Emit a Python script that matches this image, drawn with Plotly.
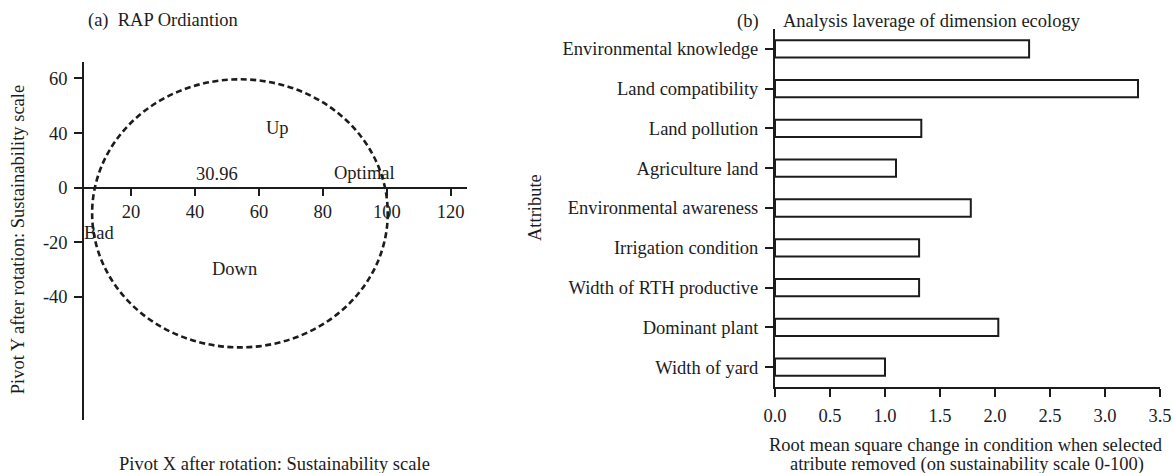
import plotly.graph_objects as go

# ---------------- data ----------------
# Panel (a): RAP ordination
x_tick_vals = [20, 40, 60, 80, 100, 120]
y_tick_vals = [40, 20, 0, -20, -40]
y_tick_text = ["60", "40", "0", "-20", "-40"]
circle_x = [7.8, 100.3]
circle_y = [-58.5, 39.7]
label_text = ["Up", "30.96", "Optimal", "Bad", "Down"]
label_x = [65.9, 47.0, 92.9, 10.0, 52.3]
label_y = [21.8, 5.0, 5.3, -16.6, -29.9]

# Panel (b): leverage of attributes
attributes = [
    "Environmental knowledge",
    "Land compatibility",
    "Land pollution",
    "Agriculture land",
    "Environmental awareness",
    "Irrigation condition",
    "Width of RTH productive",
    "Dominant plant",
    "Width of yard",
]
rms_change = [2.31, 3.30, 1.33, 1.10, 1.78, 1.31, 1.31, 2.03, 1.00]
x2_tick_vals = [0.0, 0.5, 1.0, 1.5, 2.0, 2.5, 3.0, 3.5]

# ---------------- style ----------------
W, H = 1173, 473
FONT = "Liberation Serif, Times New Roman, serif"
FS = 18.5
INK = "#1c1c1c"


def px_x(p):
    return p / W


def px_y(p):
    return 1 - p / H


fig = go.Figure()

fig.add_trace(go.Bar(
    x=rms_change, y=attributes, orientation="h",
    xaxis="x2", yaxis="y2", width=0.435,
    marker=dict(color="white", line=dict(color=INK, width=2)),
    showlegend=False, hoverinfo="x+y",
))

axis_common = dict(showgrid=False, zeroline=False, showline=True,
                   linecolor=INK, linewidth=2, ticks="outside",
                   tickcolor=INK, tickwidth=2, automargin=False,
                   tickfont=dict(family=FONT, size=FS, color=INK))

fig.update_layout(
    width=W, height=H, autosize=False,
    margin=dict(l=0, r=0, t=0, b=0, pad=0, autoexpand=False),
    paper_bgcolor="white", plot_bgcolor="rgba(0,0,0,0)",
    font=dict(family=FONT, size=FS, color=INK),
    showlegend=False,
    xaxis=dict(axis_common, domain=[px_x(75), px_x(467)],
               range=[2.44, 125.1], anchor="free", position=px_y(187.7),
               tickmode="array", tickvals=x_tick_vals, ticklen=7),
    yaxis=dict(axis_common, domain=[px_y(420), px_y(61.7)],
               range=[-85.1, 46.15], anchor="free", position=px_x(83.3),
               tickmode="array", tickvals=y_tick_vals, ticktext=y_tick_text,
               ticklen=8, ticklabelstandoff=3),
    xaxis2=dict(axis_common, domain=[px_x(775), px_x(1160)],
                range=[0, 3.5], anchor="y2", tickmode="array",
                tickvals=x2_tick_vals, tickformat=".1f", ticklen=8,
                ticklabelstandoff=3),
    yaxis2=dict(axis_common, domain=[px_y(387), px_y(29)],
                range=[-0.5, len(attributes) - 0.5], anchor="x2",
                type="category", categoryorder="array",
                categoryarray=attributes[::-1], ticklen=8,
                ticklabelstandoff=3),
)

fig.add_shape(type="circle", xref="x", yref="y",
              x0=circle_x[0], x1=circle_x[1], y0=circle_y[0], y1=circle_y[1],
              line=dict(color=INK, width=2.6, dash="6px,3.5px"), layer="above")

for t, x, y in zip(label_text, label_x, label_y):
    fig.add_annotation(x=x, y=y, xref="x", yref="y", text=t, showarrow=False,
                       font=dict(family=FONT, size=FS, color=INK))

paper_texts = [
    ("(a)\u00a0\u00a0RAP Ordiantion", 163.3, 20.7, 0),
    ("Pivot X after rotation: Sustainability scale", 274, 464, 0),
    ("Pivot Y after rotation: Sustainability scale", 18.3, 240, -90),
    ("(b)", 748, 21, 0),
    ("Analysis laverage of dimension ecology", 932, 21, 0),
    ("Attribute", 535, 208, -90),
    ("Root mean square change in condition when selected", 966, 445, 0),
    ("atribute removed (on sustainability scale 0-100)", 967, 464, 0),
]
for t, x, y, ang in paper_texts:
    fig.add_annotation(x=px_x(x), y=px_y(y), xref="paper", yref="paper",
                       text=t, showarrow=False, textangle=ang,
                       xanchor="center", yanchor="middle",
                       font=dict(family=FONT, size=FS, color=INK))

fig.write_html("out.html", config={"displayModeBar": False},
               post_script="document.body.style.margin='0';")
